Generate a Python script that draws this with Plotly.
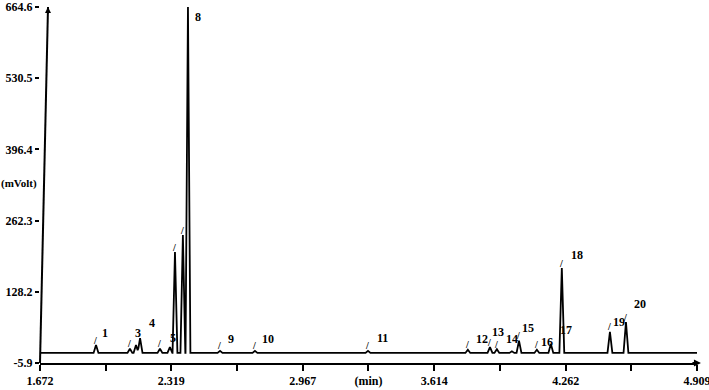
import numpy as np
import plotly.graph_objects as go

# ---- data ----
peak_labels = ["1", "", "3", "4", "", "5", "", "", "8", "9", "10", "11", "12", "13", "14", "", "15", "16", "17", "18", "19", "20"]
peak_times = [1.948, 2.115, 2.145, 2.165, 2.263, 2.312, 2.337, 2.376, 2.401, 2.559, 2.731, 3.288,
              3.780, 3.889, 3.923, 3.997, 4.032, 4.120, 4.189, 4.243, 4.480, 4.559]
peak_apex_mv = [28, 21, 28, 41, 21, 24, 203, 235, 664.6, 17, 17, 17,
                19, 24, 20, 16, 36, 19, 30, 173, 53, 71]
baseline_mv = 13.0

x_tick_vals = [1.672, 1.996, 2.319, 2.643, 2.967, 3.290, 3.614, 3.938, 4.262, 4.585, 4.909]
x_tick_text = ["1.672", "", "2.319", "", "2.967", "(min)", "3.614", "", "4.262", "", "4.909"]
y_tick_vals = [-5.9, 128.2, 262.3, 396.4, 530.5, 664.6]
y_tick_text = ["-5.9", "128.2", "262.3", "396.4", "530.5", "664.6"]

# ---- styling (not data) ----
half_w = 0.012
# label offsets in px (dx right, dy up) from each apex
label_off = [(9, 12), (0, 0), (2, 12), (12, 15), (0, 0), (3, 9), (0, 0), (0, 0), (10, -10), (11, 12), (13, 12), (15, 13),
             (14, 11), (8, 15), (15, 10), (0, 0), (9, 13), (10, 8), (15, 14), (15, 13), (9, 10), (14, 18)]
mark_peaks = [True, True, False, False, True, False, True, True, False, True, True, True,
              True, True, True, False, True, True, False, True, True, True]

FONT = "Liberation Serif"

# build trace from triangular peaks on a grid of breakpoints
pts = [1.672, 4.909]
for t in peak_times:
    pts += [t - half_w, t, t + half_w]
grid = np.array(sorted(set(pts)))
sig = np.full(grid.shape, baseline_mv)
for t, a in zip(peak_times, peak_apex_mv):
    sig += np.interp(grid, [t - half_w, t, t + half_w], [0, a - baseline_mv, 0], left=0, right=0)

fig = go.Figure()
fig.add_trace(go.Scatter(x=grid, y=sig, mode="lines", line=dict(color="black", width=1.8),
                         hoverinfo="skip", cliponaxis=True))

ann = []
for lab, t, a, (dx, dy), mk in zip(peak_labels, peak_times, peak_apex_mv, label_off, mark_peaks):
    if lab:
        ann.append(dict(x=t, y=a, text=f"<b>{lab}</b>", showarrow=False, xshift=dx, yshift=dy,
                        font=dict(family=FONT, size=12, color="black"), xanchor="center", yanchor="middle"))
    if mk:
        ann.append(dict(x=t, y=a, text="<b>/</b>", showarrow=False, xshift=-1, yshift=5,
                        font=dict(family=FONT, size=10, color="black"), xanchor="center", yanchor="middle"))

ann.append(dict(xref="paper", yref="y", x=0, y=333, text="<b>(mVolt)</b>", showarrow=False,
                xanchor="right", xshift=-1, font=dict(family=FONT, size=11, color="black")))
# axis arrowheads
ann.append(dict(xref="paper", yref="paper", x=1.006, y=0, ax=-10, ay=0, text="", showarrow=True,
                arrowhead=2, arrowsize=0.7, arrowwidth=2, arrowcolor="black"))
ann.append(dict(xref="paper", yref="paper", x=8 / 657, y=1.0, ax=0, ay=8, text="", showarrow=True,
                arrowhead=2, arrowsize=0.6, arrowwidth=2, arrowcolor="black"))

fig.update_layout(
    width=709, height=390,
    margin=dict(l=40, r=12, t=7, b=27, autoexpand=False),
    paper_bgcolor="white", plot_bgcolor="white",
    showlegend=False,
    annotations=ann,
    shapes=[dict(type="line", xref="paper", yref="paper", x0=0, y0=0, x1=8 / 657, y1=1.0,
                 line=dict(color="black", width=2))],
    xaxis=dict(range=[1.672, 4.909], tickvals=x_tick_vals,
               ticktext=[f"<b>{s}</b>" if s else "" for s in x_tick_text],
               showline=True, linecolor="black", linewidth=2, ticks="outside", ticklen=6, tickwidth=2,
               tickcolor="black", showgrid=False, zeroline=False, automargin=False,
               ticklabeloverflow="allow",
               tickfont=dict(family=FONT, size=12, color="black")),
    yaxis=dict(range=[-5.9, 664.6], tickvals=y_tick_vals, ticktext=[f"<b>{s}</b>" for s in y_tick_text],
               showline=False, ticks="outside", ticklen=4, tickwidth=1.5, tickcolor="black",
               showgrid=False, zeroline=False, automargin=False, ticklabeloverflow="allow",
               tickfont=dict(family=FONT, size=12, color="black")),
)

fig.write_html("out.html")
